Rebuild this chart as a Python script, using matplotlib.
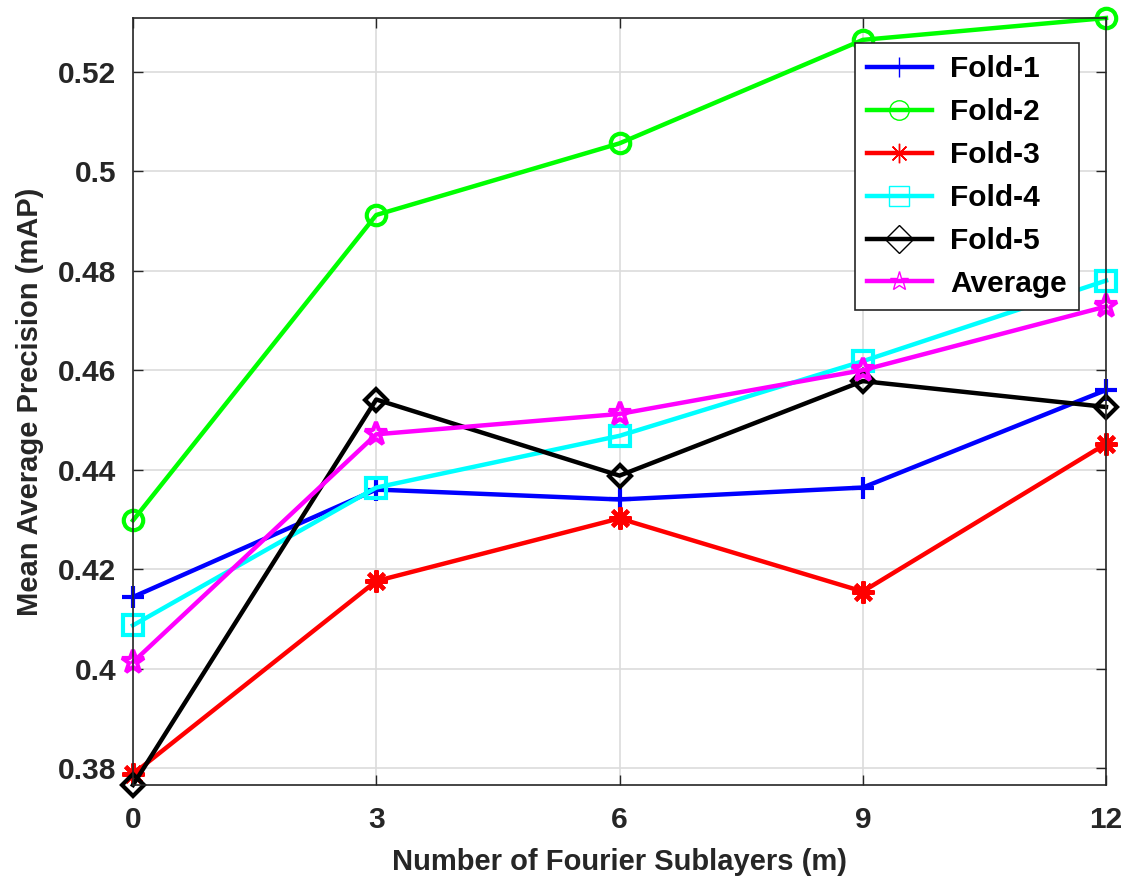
import matplotlib
matplotlib.use('Agg')
import matplotlib.pyplot as plt
import numpy as np
from matplotlib.ticker import FormatStrFormatter

plt.rcParams['font.family'] = ['Liberation Sans', 'DejaVu Sans']
plt.rcParams['font.weight'] = 'bold'

# values
sublayers = [0, 3, 6, 9, 12]
fold1 = [0.4144, 0.4360, 0.4340, 0.4364, 0.4560]
fold2 = [0.4298, 0.4912, 0.5056, 0.5264, 0.5308]
fold3 = [0.3788, 0.4176, 0.4302, 0.4155, 0.4452]
fold4 = [0.4087, 0.4364, 0.4468, 0.4618, 0.4780]
fold5 = [0.3766, 0.4541, 0.4388, 0.4578, 0.4526]
average = [0.4013, 0.4471, 0.4512, 0.4600, 0.4728]

labels = ['Fold-1', 'Fold-2', 'Fold-3', 'Fold-4', 'Fold-5', 'Average']
series = [fold1, fold2, fold3, fold4, fold5, average]
colors = ['#0000ff', '#00ff00', '#ff0000', '#00ffff', '#000000', '#ff00ff']
markers = ['+', 'o', (8, 2, 0), 's', 'D', '*']
msizes = [16, 14, 16, 14, 11, 17]

fig = plt.figure(figsize=(11.3, 8.84), dpi=100)
ax = fig.add_axes([133 / 1130, 1 - 785 / 884, 973 / 1130, 767 / 884])

for vals, lab, c, m, ms in zip(series, labels, colors, markers, msizes):
    ax.plot(sublayers, vals, color=c, lw=3.2, marker=m, ms=ms, mfc='none',
            mec=c, mew=3, label=lab, clip_on=False)

allv = np.concatenate([np.array(s) for s in series])
ax.set_xlim(0, 12)
ax.set_ylim(allv.min(), allv.max())
ax.set_xticks(sublayers)
ax.set_yticks(np.arange(0.38, 0.521, 0.02))
ax.yaxis.set_major_formatter(FormatStrFormatter('%g'))

ax.grid(True, color='#dcdcdc', lw=1.2)
ax.set_axisbelow(True)
ax.tick_params(direction='in', top=True, right=True, length=7, width=1,
               labelsize=21.5, color='#262626', labelcolor='#262626')
ax.tick_params(axis='x', pad=15)
ax.tick_params(axis='y', pad=12)
for sp in ax.spines.values():
    sp.set_color('#262626')
    sp.set_linewidth(1.2)

ax.set_xlabel('Number of Fourier Sublayers (m)', fontsize=21, fontweight='bold',
              color='#262626', labelpad=10)
ax.set_ylabel('Mean Average Precision (mAP)', fontsize=21, fontweight='bold',
              color='#262626', labelpad=10)

leg = ax.legend(loc='upper right', bbox_to_anchor=(0.972, 0.967), fontsize=21.5,
                fancybox=False, framealpha=1, edgecolor='#262626',
                labelspacing=0.5, handlelength=2.2, borderpad=0.4,
                handletextpad=0.6, borderaxespad=0)
leg.get_frame().set_linewidth(1.2)
for ln in leg.get_lines():
    ln.set_markeredgewidth(1)
    ln.set_markersize(14)

fig.savefig('out.png', dpi=100)
